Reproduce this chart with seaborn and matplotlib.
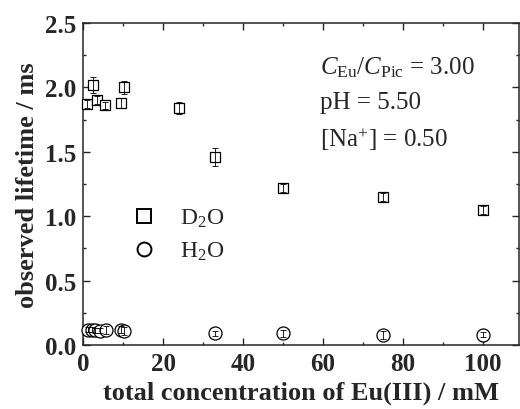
import matplotlib
matplotlib.use("Agg")
import matplotlib.pyplot as plt
from matplotlib.lines import Line2D
from matplotlib.ticker import MultipleLocator
import seaborn as sns
import pandas as pd

# data
d2o_x = [1.0, 2.5, 3.5, 5.5, 9.5, 10.3, 24.0, 33.0, 50.0, 75.0, 100.0]
d2o_y = [1.87, 2.02, 1.90, 1.86, 1.88, 2.00, 1.84, 1.46, 1.22, 1.15, 1.05]
d2o_err = [0.03, 0.06, 0.03, 0.03, 0.04, 0.05, 0.05, 0.07, 0.03, 0.03, 0.03]
h2o_x = [1.2, 2.2, 3.0, 4.3, 5.8, 9.5, 10.3, 33.0, 50.0, 75.0, 100.0]
h2o_y = [0.12, 0.12, 0.115, 0.11, 0.115, 0.12, 0.11, 0.09, 0.09, 0.08, 0.08]
h2o_err = [0.02, 0.02, 0.02, 0.02, 0.03, 0.03, 0.03, 0.02, 0.03, 0.03, 0.02]

sns.set_style("ticks")
plt.rcParams['font.family'] = ['Liberation Serif', 'DejaVu Serif']
plt.rcParams['mathtext.fontset'] = 'custom'
plt.rcParams['mathtext.rm'] = 'Liberation Serif'
plt.rcParams['mathtext.it'] = 'Liberation Serif:italic'

fig = plt.figure(figsize=(5.2, 4.1), dpi=100)
ax = fig.add_axes([83/520, 1 - 346/410, 436/520, 322/410])

df_d = pd.DataFrame({"x": d2o_x, "y": d2o_y})
df_h = pd.DataFrame({"x": h2o_x, "y": h2o_y})

sns.scatterplot(data=df_d, x="x", y="y", marker="s", s=62, facecolor="white",
                edgecolor="black", linewidth=0.9, ax=ax, zorder=3, clip_on=False)
sns.scatterplot(data=df_h, x="x", y="y", marker="o", s=88, facecolor="white",
                edgecolor="black", linewidth=0.9, ax=ax, zorder=3, clip_on=False)
ax.errorbar(d2o_x, d2o_y, yerr=d2o_err, fmt="none", ecolor="black", elinewidth=0.6,
            capsize=2.5, capthick=0.6, zorder=4)
ax.errorbar(h2o_x, h2o_y, yerr=h2o_err, fmt="none", ecolor="black", elinewidth=0.6,
            capsize=2.5, capthick=0.6, zorder=4)

ax.set_xlim(0, 109)
ax.set_ylim(0, 2.5)
ax.xaxis.set_major_locator(MultipleLocator(20))
ax.xaxis.set_minor_locator(MultipleLocator(10))
ax.yaxis.set_major_locator(MultipleLocator(0.5))
ax.yaxis.set_minor_locator(MultipleLocator(0.25))
ax.tick_params(which="both", direction="in", top=True, right=True, width=1.0)
ax.tick_params(which="major", length=5, labelsize=18, pad=5)
ax.tick_params(which="minor", length=2.5)
for lab in ax.get_xticklabels() + ax.get_yticklabels():
    lab.set_fontweight("bold")
for sp in ax.spines.values():
    sp.set_linewidth(1.1)

ax.set_xlabel("total concentration of Eu(III) / mM", fontsize=19, fontweight="bold", labelpad=4)
ax.set_ylabel("observed lifetime / ms", fontsize=19, fontweight="bold", labelpad=4)

handles = [Line2D([], [], marker="s", ls="none", mfc="white", mec="black", ms=10, mew=1.4),
           Line2D([], [], marker="o", ls="none", mfc="white", mec="black", ms=10, mew=1.4)]
ax.legend(handles, [r"D$_2$O", r"H$_2$O"], loc="upper left", bbox_to_anchor=(0.065, 0.495),
          frameon=False, fontsize=17, handletextpad=1.0, labelspacing=0.45, handlelength=1.0)

ax.text(0.544, 0.845, r"$C_{\rm Eu}/C_{\rm Pic}$ = 3.00", transform=ax.transAxes, fontsize=18)
ax.text(0.544, 0.755, "pH = 5.50", transform=ax.transAxes, fontsize=18, va="center")
ax.text(0.544, 0.64, r"[Na$^{+}$] = 0.50", transform=ax.transAxes, fontsize=18, va="center")

fig.savefig("out.png", dpi=100)
